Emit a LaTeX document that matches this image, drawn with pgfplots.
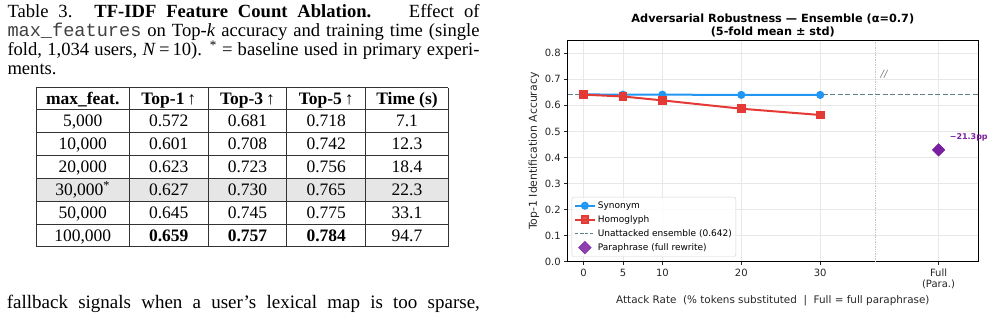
\documentclass[border=0pt]{standalone}
\usepackage{pgfplots}
\pgfplotsset{compat=1.18}
\usepackage{fontspec}
\setmainfont{Liberation Serif}
\setmonofont{Liberation Mono}
\newfontfamily\dejavu{DejaVu Sans}

\definecolor{synblue}{HTML}{2196F3}
\definecolor{homred}{HTML}{E53935}
\definecolor{parapurple}{HTML}{7B1FA2}
\definecolor{baseslate}{HTML}{607D8B}
\definecolor{rowgray}{HTML}{E6E6E6}

% Attack results (5-fold means)
\pgfplotstableread{
rate acc
0    0.642
5    0.641
10   0.641
20   0.640
30   0.640
}\synonym
\pgfplotstableread{
rate acc
0    0.641
5    0.634
10   0.619
20   0.587
30   0.563
}\homoglyph
\pgfplotstableread{
rate acc
45   0.429
}\paraphrase

\begin{document}
\begin{tikzpicture}
\useasboundingbox (0pt,0pt) rectangle (995pt,319pt);

% ---------------- Table 3 ----------------
\node[anchor=north west, inner sep=0pt, text width=472pt, align=justify,
      font=\fontsize{18.6}{18.3}\selectfont] at (7.3pt,314.5pt)
  {Table 3. \textbf{TF-IDF Feature Count Ablation.}\hspace{24pt plus 6pt}Effect of\linebreak
   {\color{black!75}\texttt{max\_features}} on Top-\textit{k} accuracy and training time (single\linebreak
   fold, 1,034 users, \textit{N}\,=\,10). \textsuperscript{*} = baseline used in primary experi-\linebreak
   ments.};

% shaded baseline row
\fill[rowgray] (36pt,140.7pt) rectangle (448.3pt,118pt);
% grid of the table
\begin{scope}[line width=0.8pt, black!80]
\foreach \y in {231.3,210,186.7,164,140.7,118,95,72.3}
  \draw (36pt,\y pt) -- (448.3pt,\y pt);
\foreach \x in {36,129.3,208.3,286.7,365.7,448.3}
  \draw (\x pt,231.3pt) -- (\x pt,72.3pt);
\end{scope}

\begin{scope}[every node/.style={anchor=base, inner sep=0pt,
      font=\fontsize{17.5}{20}\selectfont}]
% header
\node at (82.7pt,214.9pt) {\textbf{max\_feat.}};
\node at (168.8pt,214.9pt) {\textbf{Top-1}\,↑};
\node at (247.5pt,214.9pt) {\textbf{Top-3}\,↑};
\node at (326.2pt,214.9pt) {\textbf{Top-5}\,↑};
\node at (407pt,214.9pt) {\textbf{Time (s)}};
% rows
\foreach \yc/\a/\b/\c/\d/\e in {
   192.6/5{,}000/0.572/0.681/0.718/7.1,
   169.6/10{,}000/0.601/0.708/0.742/12.3,
   146.6/20{,}000/0.623/0.723/0.756/18.4,
   123.6/30{,}000\textsuperscript{*}/0.627/0.730/0.765/22.3,
   100.7/50{,}000/0.645/0.745/0.775/33.1}{
  \node at (82.7pt,\yc pt) {\a};
  \node at (168.8pt,\yc pt) {\b};
  \node at (247.5pt,\yc pt) {\c};
  \node at (326.2pt,\yc pt) {\d};
  \node at (407pt,\yc pt) {\e};
}
\node at (82.7pt,77.9pt) {100,000};
\node at (168.8pt,77.9pt) {\textbf{0.659}};
\node at (247.5pt,77.9pt) {\textbf{0.757}};
\node at (326.2pt,77.9pt) {\textbf{0.784}};
\node at (407pt,77.9pt) {94.7};
\end{scope}

% running text below the table
\node[anchor=base west, inner sep=0pt, font=\fontsize{19}{20}\selectfont]
  at (6.7pt,11pt)
  {\makebox[473pt][s]{fallback signals when a user’s lexical map is too sparse,}};

% ---------------- Robustness chart ----------------
\node[font=\dejavu\bfseries\fontsize{11.3}{13}\selectfont, align=center,
      inner sep=0pt] at (772.8pt,293.5pt)
  {Adversarial Robustness — Ensemble (α=0.7)\\(5-fold mean ± std)};

\begin{axis}[
  at={(567.7pt,57.3pt)}, anchor=south west,
  scale only axis, width=410.3pt, height=221pt,
  xmin=-2, xmax=50, ymin=0, ymax=0.848,
  clip=false,
  xtick={0,5,10,20,30,45},
  xticklabels={0,5,10,20,30,{Full\\(Para.)}},
  xticklabel style={align=center},
  ytick={0,0.1,0.2,0.3,0.4,0.5,0.6,0.7,0.8},
  yticklabel style={/pgf/number format/.cd, fixed, fixed zerofill, precision=1},
  /pgf/number format/assume math mode=true,
  tick label style={font=\dejavu\fontsize{10}{11}\selectfont, text=black!85},
  xlabel style={font=\dejavu\fontsize{10.4}{12}\selectfont, text=black!85},
  ylabel style={font=\dejavu\fontsize{10.9}{12}\selectfont, text=black!85,
    at={(axis description cs:-0.061,0.5)}},
  xtick pos=left, ytick pos=left,
  tick align=outside, major tick length=3.5pt,
  tick style={black!85, line width=0.8pt},
  axis line style={line width=1pt},
  grid=major, major grid style={black!9, line width=0.8pt},
  xlabel={Attack Rate~~(\% tokens substituted~~|~~Full = full paraphrase)},
  ylabel={Top-1 Identification Accuracy},
  legend style={at={(axis description cs:0.0098,0.0226)}, anchor=south west,
    font=\dejavu\fontsize{9}{10.5}\selectfont, draw=black!18, rounded corners=2pt,
    fill=white, fill opacity=0.85, text opacity=1, row sep=1.6pt,
    inner xsep=2pt, inner ysep=2.5pt},
  legend cell align=left,
  legend image code/.code={%
    \draw[mark repeat=2, mark phase=2]
      plot coordinates {(0cm,0cm) (0.35cm,0cm) (0.7cm,0cm)};},
]
% separator between the rate axis and the full rewrite
\addplot[black!22, densely dotted, line width=0.7pt, forget plot]
  coordinates {(37,0) (37,0.848)};
% unattacked reference level
\addplot[baseslate, line width=1.3pt, dash pattern=on 5pt off 2.5pt, forget plot]
  coordinates {(-2,0.642) (50,0.642)};

\addplot[synblue, line width=2pt, mark=*, mark size=3pt] table[x=rate,y=acc] {\synonym};
\addlegendentry{Synonym}
\addplot[homred, line width=2pt, mark=square*, mark size=3.3pt] table[x=rate,y=acc] {\homoglyph};
\addlegendentry{Homoglyph}
\addlegendimage{baseslate, line width=1.3pt, dash pattern=on 3pt off 2pt}
\addlegendentry{Unattacked ensemble (0.642)}
\addplot[parapurple, only marks, mark=square*, mark size=4.5pt,
  mark options={rotate=45}] table[x=rate,y=acc] {\paraphrase};
\addlegendentry{Paraphrase (full rewrite)}

\node[anchor=west, text=parapurple, font=\dejavu\bfseries\fontsize{8}{9}\selectfont,
      inner sep=0pt] at (axis cs:46.4,0.477) {−21.3pp};
\node[text=black!50, font=\dejavu\itshape\fontsize{10}{11}\selectfont]
  at (axis cs:38.1,0.72) {//};
\end{axis}
\end{tikzpicture}
\end{document}
